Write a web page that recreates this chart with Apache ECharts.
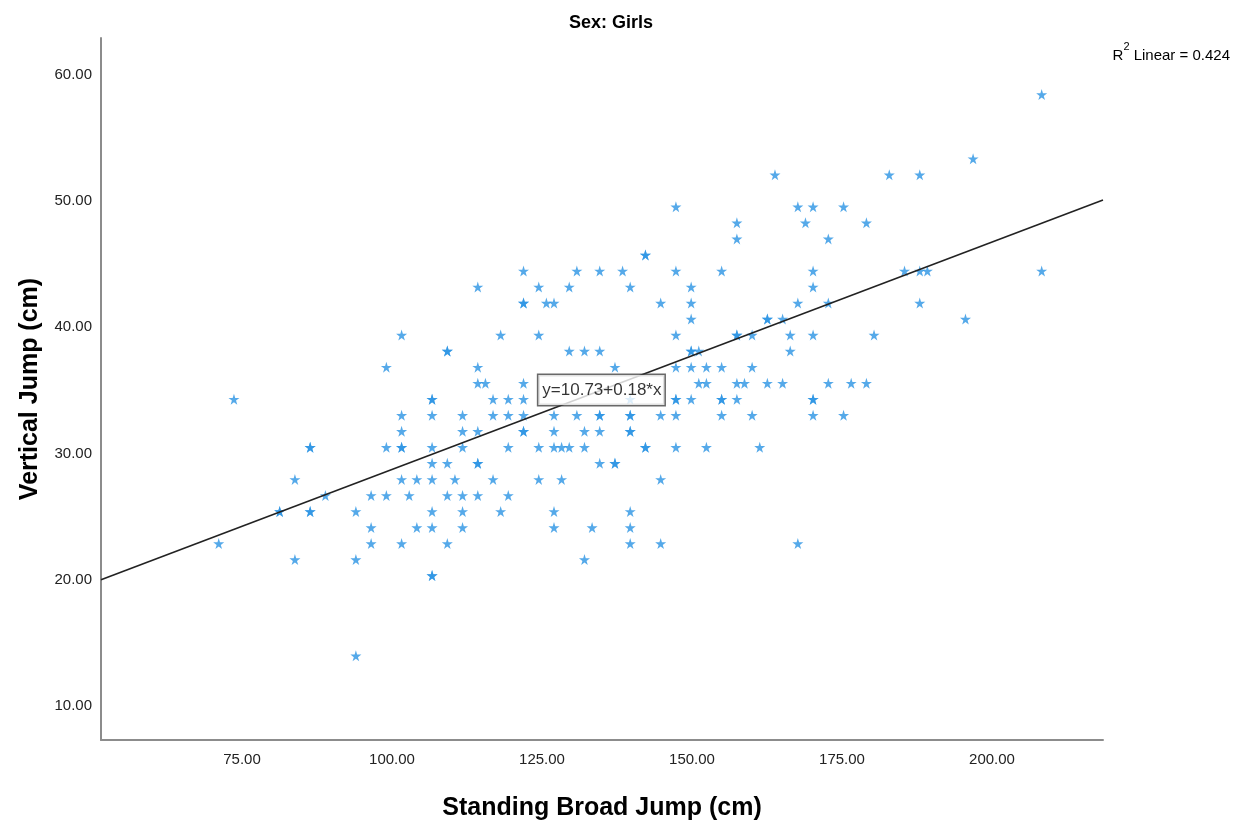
<!DOCTYPE html>
<html>
<head>
<meta charset="utf-8">
<script src="https://cdn.jsdelivr.net/npm/echarts@6/dist/echarts.min.js"></script>
<style>
html,body{margin:0;padding:0;background:#fff;}
#chart{width:1242px;height:833px;}
</style>
</head>
<body>
<div id="chart"></div>
<script>
// Standing broad jump (cm) for each girl
const broadJump = [
  208.28,
  196.85,
  163.83, 182.88, 187.96,
  147.32, 167.64, 170.18, 175.26,
  157.48, 168.91, 179.07,
  157.48, 172.72,
  142.24, 142.24,
  121.92, 130.81, 134.62, 138.43, 147.32, 154.94, 170.18, 185.42, 187.96, 189.23, 208.28,
  114.30, 124.46, 129.54, 139.70, 149.86, 170.18,
  121.92, 121.92, 125.73, 127.00, 144.78, 149.86, 167.64, 172.72, 187.96,
  149.86, 162.56, 162.56, 165.10, 195.58,
  101.60, 118.11, 124.46, 147.32, 157.48, 157.48, 160.02, 166.37, 170.18, 180.34,
  109.22, 109.22, 129.54, 132.08, 134.62, 149.86, 149.86, 151.13, 166.37,
  99.06, 114.30, 137.16, 147.32, 149.86, 152.40, 154.94, 160.02,
  114.30, 115.57, 121.92, 151.13, 152.40, 157.48, 158.75, 162.56, 165.10, 172.72, 176.53, 179.07,
  73.66, 106.68, 106.68, 116.84, 119.38, 121.92, 139.70, 147.32, 147.32, 149.86, 154.94, 154.94, 157.48, 170.18, 170.18,
  101.60, 106.68, 111.76, 116.84, 119.38, 121.92, 127.00, 130.81, 134.62, 134.62, 139.70, 139.70, 144.78, 147.32, 154.94, 160.02, 170.18, 175.26,
  101.60, 111.76, 114.30, 121.92, 121.92, 127.00, 132.08, 134.62, 139.70, 139.70,
  86.36, 86.36, 99.06, 101.60, 101.60, 106.68, 111.76, 119.38, 124.46, 127.00, 128.27, 129.54, 132.08, 142.24, 142.24, 147.32, 152.40, 161.29,
  106.68, 109.22, 114.30, 114.30, 134.62, 137.16, 137.16,
  83.82, 101.60, 104.14, 106.68, 110.49, 116.84, 124.46, 128.27, 144.78,
  88.90, 96.52, 99.06, 102.87, 109.22, 111.76, 114.30, 119.38,
  81.28, 81.28, 86.36, 86.36, 93.98, 106.68, 111.76, 118.11, 127.00, 139.70,
  96.52, 104.14, 106.68, 111.76, 127.00, 133.35, 139.70,
  71.12, 96.52, 101.60, 109.22, 139.70, 144.78, 167.64,
  83.82, 93.98, 132.08,
  106.68, 106.68,
  93.98
];
// Vertical jump (cm), same order as broadJump
const verticalJump = [
  58.42,
  53.34,
  52.07, 52.07, 52.07,
  49.53, 49.53, 49.53, 49.53,
  48.26, 48.26, 48.26,
  46.99, 46.99,
  45.72, 45.72,
  44.45, 44.45, 44.45, 44.45, 44.45, 44.45, 44.45, 44.45, 44.45, 44.45, 44.45,
  43.18, 43.18, 43.18, 43.18, 43.18, 43.18,
  41.91, 41.91, 41.91, 41.91, 41.91, 41.91, 41.91, 41.91, 41.91,
  40.64, 40.64, 40.64, 40.64, 40.64,
  39.37, 39.37, 39.37, 39.37, 39.37, 39.37, 39.37, 39.37, 39.37, 39.37,
  38.10, 38.10, 38.10, 38.10, 38.10, 38.10, 38.10, 38.10, 38.10,
  36.83, 36.83, 36.83, 36.83, 36.83, 36.83, 36.83, 36.83,
  35.56, 35.56, 35.56, 35.56, 35.56, 35.56, 35.56, 35.56, 35.56, 35.56, 35.56, 35.56,
  34.29, 34.29, 34.29, 34.29, 34.29, 34.29, 34.29, 34.29, 34.29, 34.29, 34.29, 34.29, 34.29, 34.29, 34.29,
  33.02, 33.02, 33.02, 33.02, 33.02, 33.02, 33.02, 33.02, 33.02, 33.02, 33.02, 33.02, 33.02, 33.02, 33.02, 33.02, 33.02, 33.02,
  31.75, 31.75, 31.75, 31.75, 31.75, 31.75, 31.75, 31.75, 31.75, 31.75,
  30.48, 30.48, 30.48, 30.48, 30.48, 30.48, 30.48, 30.48, 30.48, 30.48, 30.48, 30.48, 30.48, 30.48, 30.48, 30.48, 30.48, 30.48,
  29.21, 29.21, 29.21, 29.21, 29.21, 29.21, 29.21,
  27.94, 27.94, 27.94, 27.94, 27.94, 27.94, 27.94, 27.94, 27.94,
  26.67, 26.67, 26.67, 26.67, 26.67, 26.67, 26.67, 26.67,
  25.40, 25.40, 25.40, 25.40, 25.40, 25.40, 25.40, 25.40, 25.40, 25.40,
  24.13, 24.13, 24.13, 24.13, 24.13, 24.13, 24.13,
  22.86, 22.86, 22.86, 22.86, 22.86, 22.86, 22.86,
  21.59, 21.59, 21.59,
  20.32, 20.32,
  13.97
];
const xTicks = [75, 100, 125, 150, 175, 200];
const yTicks = [10, 20, 30, 40, 50, 60];
const fitIntercept = 10.73;
const fitSlope = 0.18;
const rSquared = 0.424;
const chartTitle = 'Sex: Girls';
const xName = 'Standing Broad Jump (cm)';
const yName = 'Vertical Jump (cm)';

const xMin = 51.5, xMax = 218.5, yMin = 7.3, yMax = 62.9;
const points = broadJump.map((x, i) => [x, verticalJump[i]]);
const fitLine = [[xMin, fitIntercept + fitSlope * xMin], [xMax, fitIntercept + fitSlope * xMax]];
const labelX = 134.9;
const labelPoint = [[labelX, fitIntercept + fitSlope * labelX]];
const starPath = 'path://M50,0 L61,35 L98,35 L68,57 L79,91 L50,70 L21,91 L32,57 L2,35 L39,35 Z';
const sans = '"Liberation Sans", Arial, sans-serif';

const chart = echarts.init(document.getElementById('chart'), null, {renderer: 'canvas'});
chart.setOption({
  animation: false,
  backgroundColor: '#ffffff',
  title: {
    text: chartTitle,
    left: 606, top: 9,
    textAlign: 'center',
    textStyle: {fontFamily: sans, fontSize: 18, fontWeight: 'bold', color: '#000'}
  },
  graphic: [{
    type: 'text',
    right: 12, top: 41,
    style: {
      text: '{r|R}{s|2}{r| Linear = ' + rSquared.toFixed(3) + '}',
      rich: {
        r: {fontFamily: sans, fontSize: 15, fill: '#000', verticalAlign: 'bottom', lineHeight: 22},
        s: {fontFamily: sans, fontSize: 11, fill: '#000', verticalAlign: 'top', lineHeight: 22, padding: [0, 0, 8, 0]}
      }
    }
  }],
  grid: {left: 101, right: 139, top: 38, bottom: 93, containLabel: false},
  xAxis: {
    type: 'value', min: xMin, max: xMax,
    name: xName, nameLocation: 'middle', nameGap: 56,
    nameTextStyle: {fontFamily: sans, fontSize: 25, fontWeight: 'bold', color: '#000'},
    splitLine: {show: false},
    axisTick: {show: false},
    axisLine: {show: true, lineStyle: {color: '#8c8c8c', width: 2}},
    axisLabel: {customValues: xTicks, formatter: v => v.toFixed(2), margin: 12,
      fontFamily: sans, fontSize: 15, color: '#222'}
  },
  yAxis: {
    type: 'value', min: yMin, max: yMax,
    name: yName, nameLocation: 'middle', nameGap: 58, nameRotate: 90,
    nameTextStyle: {fontFamily: sans, fontSize: 25, fontWeight: 'bold', color: '#000'},
    splitLine: {show: false},
    axisTick: {show: false},
    axisLine: {show: true, lineStyle: {color: '#8c8c8c', width: 2}},
    axisLabel: {customValues: yTicks, formatter: v => v.toFixed(2), margin: 9,
      fontFamily: sans, fontSize: 15, color: '#222'}
  },
  series: [
    {
      type: 'scatter', data: points, symbol: starPath, symbolSize: 11,
      itemStyle: {color: '#2a93e4'}, z: 2
    },
    {
      type: 'line', data: fitLine, symbol: 'none', silent: true,
      lineStyle: {color: '#222', width: 1.6}, z: 3
    },
    {
      type: 'scatter', data: labelPoint, symbolSize: 0, silent: true, z: 5,
      label: {
        show: true, position: 'inside',
        formatter: 'y=' + fitIntercept.toFixed(2) + '+' + fitSlope.toFixed(2) + '*x',
        fontFamily: sans, fontSize: 17, color: '#000',
        backgroundColor: '#fff', borderColor: '#444', borderWidth: 1.5,
        padding: [7, 3, 6, 4]
      }
    }
  ]
});
</script>
</body>
</html>
